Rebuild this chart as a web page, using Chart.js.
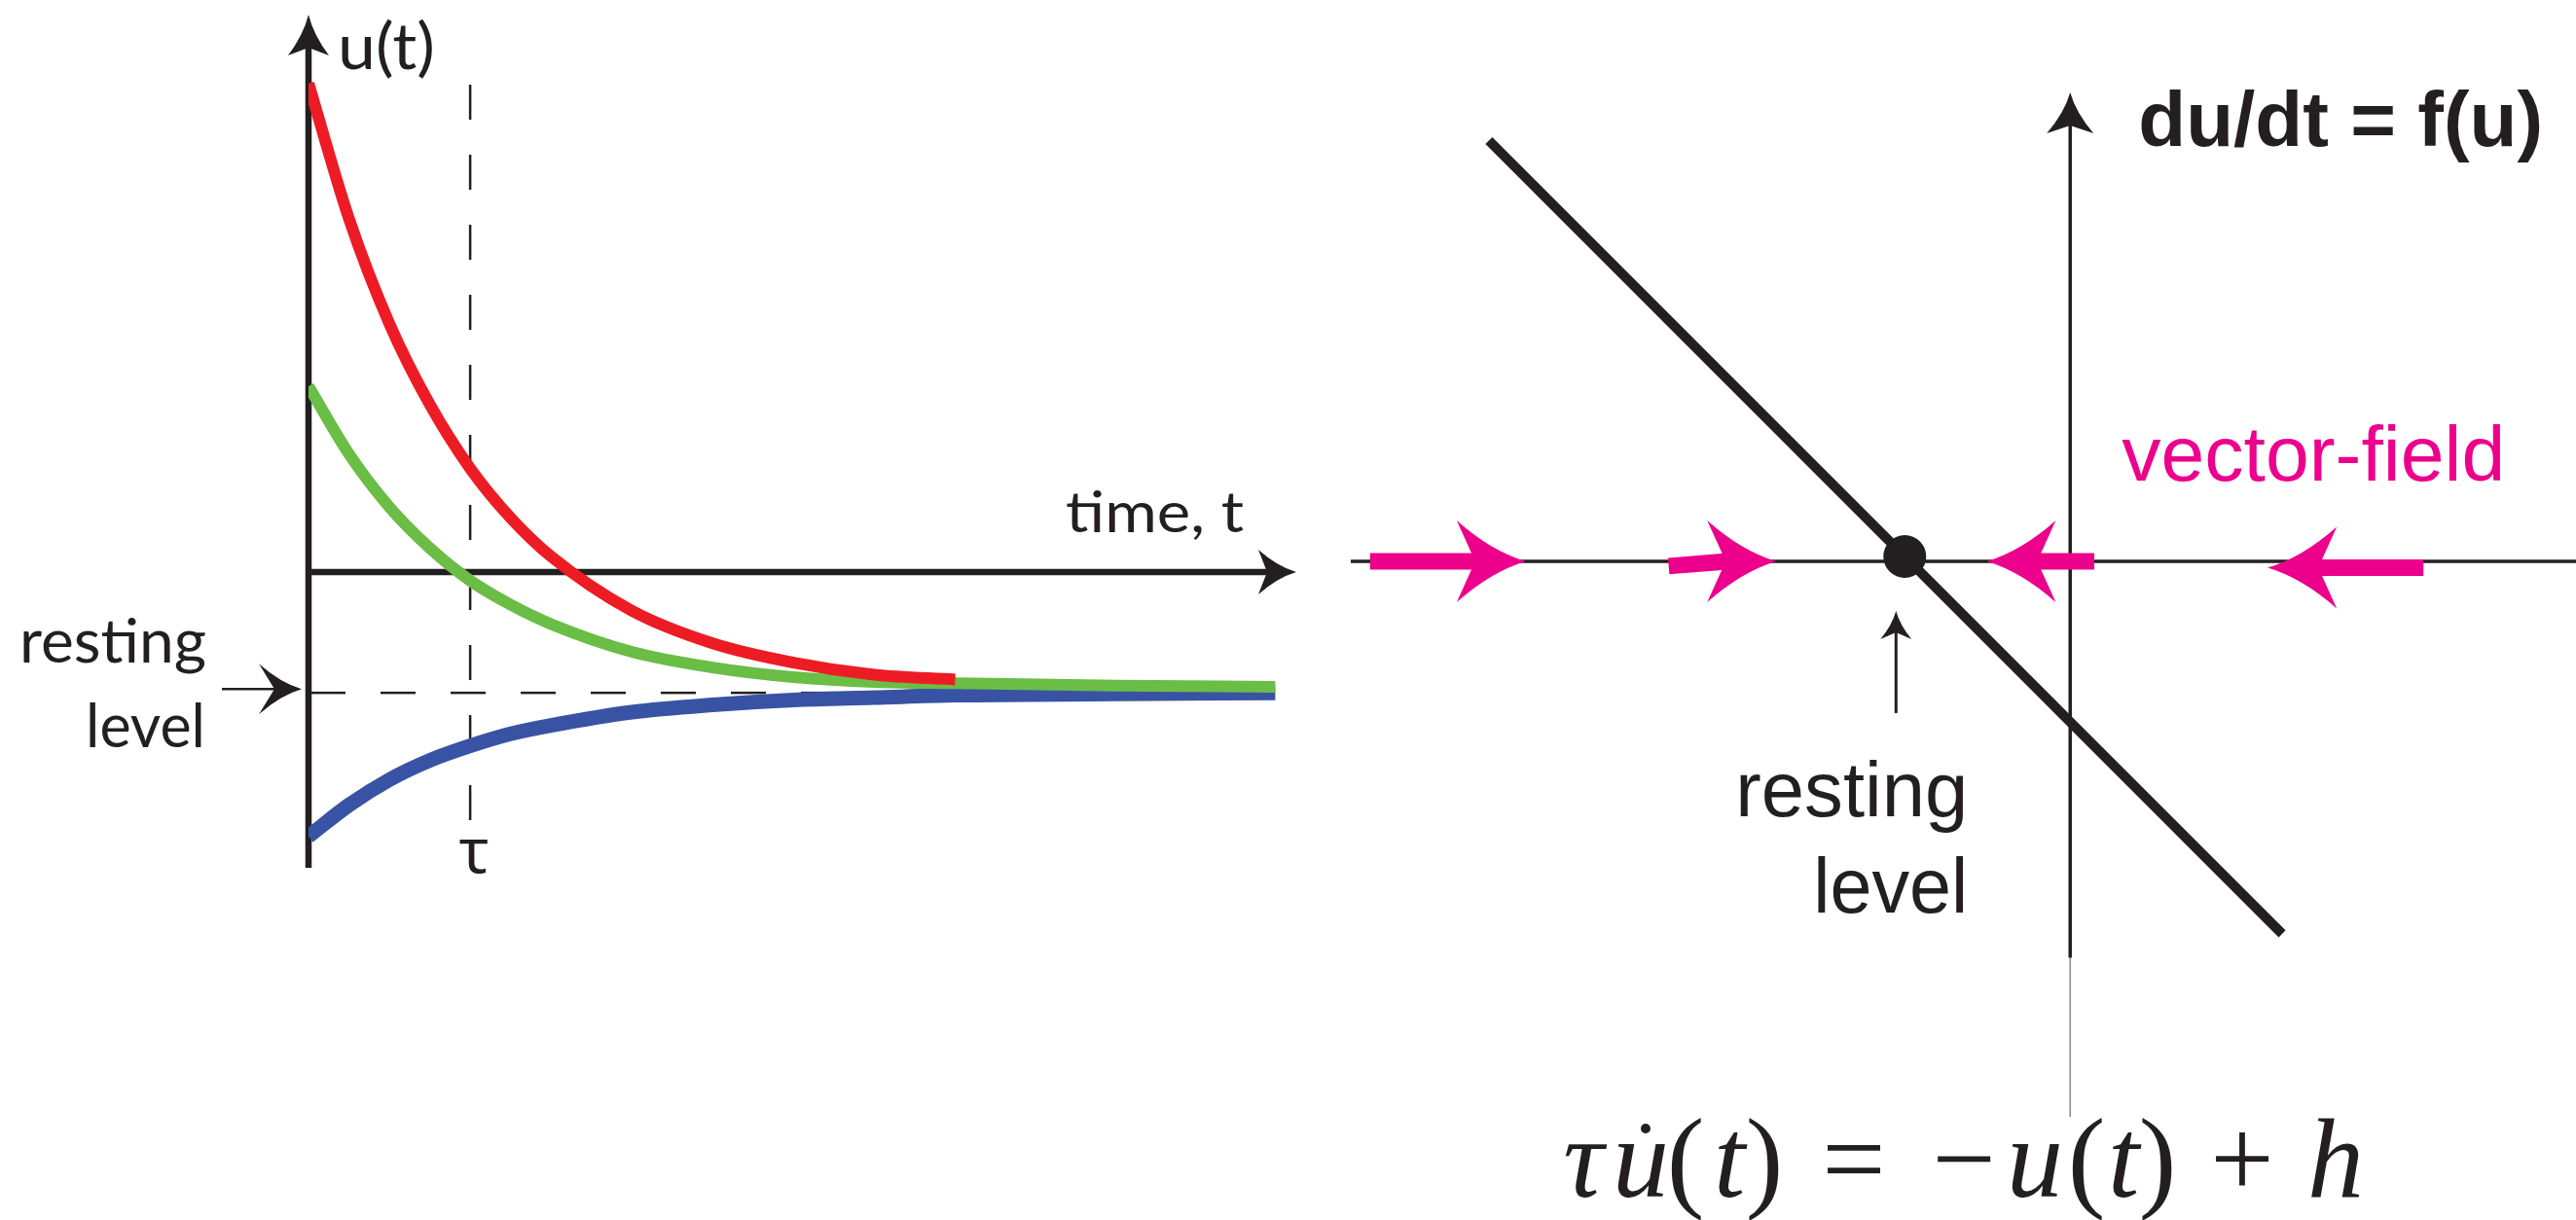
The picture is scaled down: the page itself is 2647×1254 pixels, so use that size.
<!DOCTYPE html>
<html>
<head>
<meta charset="utf-8">
<script src="https://cdn.jsdelivr.net/npm/chart.js@4.4.1/dist/chart.umd.min.js"></script>
<style>
html, body { margin: 0; padding: 0; background: #fff; overflow: hidden; }
#wrap { position: relative; width: 2647px; height: 1254px; }
canvas { position: absolute; top: 0; }
#left { left: 0; }
#right { left: 1380px; }
</style>
</head>
<body>
<div id="wrap">
  <canvas id="left" width="1380" height="950"></canvas>
  <canvas id="right" width="1267" height="1254"></canvas>
</div>
<script>
// --- left panel: u(t) relaxing to the resting level (time in units of tau) ---
const timeSteps = [0, 0.25, 0.5, 0.75, 1, 1.25, 1.5, 2, 2.5, 3, 3.5, 4, 5, 5.98];
const redU   = [4.05, 2.93, 2.06, 1.39, 0.86, 0.45, 0.13, -0.32, -0.59, -0.75, -0.85, -0.89];
const greenU = [1.54, 0.98, 0.54, 0.20, -0.07, -0.27, -0.43, -0.66, -0.79, -0.87, -0.91, -0.92, -0.94, -0.95];
const blueU  = [-2.19, -1.93, -1.72, -1.56, -1.44, -1.34, -1.27, -1.16, -1.10, -1.06, -1.04, -1.02, -1.01, -1.00];
const restingLevel = -1;
const tau = 1;

// --- right panel: du/dt = f(u) = -u + h ---
const lineU = [-3.62, 1.32];
const lineF = [2.62, -2.32];
const fixedPoint = [-1.03, 0.03];
const fieldFrom = [[-4.36, 0], [-2.50, -0.03], [0.15, 0], [2.20, -0.04]];
const fieldTo   = [[-3.39, 0], [-1.83, 0], [-0.52, 0], [1.23, -0.04]];

const INK = '#231F20';
const PINK = '#EC008C';

const pts = (xs, ys) => ys.map((v, i) => ({ x: xs[i], y: v }));

// arrow head with concave sides, like the illustrator ones
function arrowHead(ctx, tx, ty, ang, len, hw, notch) {
  const c = Math.cos(ang), s = Math.sin(ang);
  const P = (a, b) => [tx - a * c - b * s, ty - a * s + b * c];
  ctx.beginPath();
  ctx.moveTo(tx, ty);
  ctx.quadraticCurveTo(...P(len * 0.5, hw * 0.25), ...P(len, hw));
  ctx.lineTo(...P(notch, 0));
  ctx.lineTo(...P(len, -hw));
  ctx.quadraticCurveTo(...P(len * 0.5, -hw * 0.25), tx, ty);
  ctx.closePath();
  ctx.fill();
}

function label(ctx, str, x, y, font, opt = {}) {
  ctx.save();
  ctx.font = font;
  ctx.fillStyle = opt.color || INK;
  ctx.textBaseline = 'alphabetic';
  ctx.textAlign = 'left';
  const w = ctx.measureText(str).width;
  const k = opt.width ? opt.width / w : 1;
  let left = x;
  if (opt.align === 'right') left = x - w * k;
  if (opt.align === 'center') left = x - w * k / 2;
  ctx.translate(left, y);
  ctx.scale(k, 1);
  ctx.fillText(str, 0, 0);
  ctx.restore();
}

const leftDecor = {
  id: 'leftDecor',
  beforeDatasetsDraw(chart) {
    const { ctx, chartArea: a, scales: { x, y } } = chart;
    const x0 = x.getPixelForValue(0), y0 = y.getPixelForValue(0);
    const yr = y.getPixelForValue(restingLevel);
    const xt = x.getPixelForValue(tau);
    ctx.save();
    ctx.strokeStyle = INK;
    ctx.fillStyle = INK;
    // dashed guides
    ctx.lineWidth = 2.5;
    ctx.setLineDash([36, 36]);
    ctx.beginPath(); ctx.moveTo(x0 + 2, yr); ctx.lineTo(x.getPixelForValue(4), yr); ctx.stroke();
    ctx.beginPath(); ctx.moveTo(xt, 87); ctx.lineTo(xt, 850); ctx.stroke();
    ctx.setLineDash([]);
    // axes
    ctx.lineWidth = 6.5;
    ctx.beginPath(); ctx.moveTo(x0, a.bottom); ctx.lineTo(x0, a.top + 32); ctx.stroke();
    arrowHead(ctx, x0, a.top, -Math.PI / 2, 42, 21, 34);
    ctx.beginPath(); ctx.moveTo(x0 - 3, y0); ctx.lineTo(a.right - 28, y0); ctx.stroke();
    arrowHead(ctx, a.right, y0, 0, 39, 23, 30);
    // resting level pointer
    ctx.lineWidth = 2.5;
    ctx.beginPath(); ctx.moveTo(x0 - 89, yr - 4); ctx.lineTo(x0 - 25, yr - 4); ctx.stroke();
    arrowHead(ctx, x0 - 7, yr - 4, 0, 44, 26, 28);
    ctx.restore();
  },
  afterDatasetsDraw(chart) {
    const { ctx, scales: { x, y } } = chart;
    const x0 = x.getPixelForValue(0);
    const yr = y.getPixelForValue(restingLevel);
    label(ctx, 'u(t)', x0 + 30, 71, '66px Lato', { width: 100 });
    label(ctx, 'time, t', 1095, 547, '58px Lato', { width: 183 });
    label(ctx, 'resting', 212, yr - 31, '61px Lato', { align: 'right', width: 192 });
    label(ctx, 'level', 211, yr + 56, '61px Lato', { align: 'right', width: 123 });
    label(ctx, 'τ', x.getPixelForValue(tau) + 4, 897, '64px "Noto Sans"', { align: 'center' });
  }
};

new Chart(document.getElementById('left'), {
  type: 'line',
  data: {
    datasets: [
      { data: pts(timeSteps, redU), borderColor: '#ED1C24', borderWidth: 12 },
      { data: pts(timeSteps, greenU), borderColor: '#6ABD45', borderWidth: 12 },
      { data: pts(timeSteps, blueU), borderColor: '#3953A4', borderWidth: 15 }
    ]
  },
  options: {
    responsive: false,
    animation: false,
    devicePixelRatio: 1,
    layout: { autoPadding: false, padding: { left: 317, right: 48, top: 15, bottom: 58 } },
    scales: {
      x: { type: 'linear', min: 0, max: 6.11, display: false },
      y: { type: 'linear', min: -2.45, max: 4.62, display: false }
    },
    elements: {
      point: { radius: 0 },
      line: { cubicInterpolationMode: 'monotone', borderCapStyle: 'butt', fill: false }
    },
    plugins: { legend: { display: false }, tooltip: { enabled: false } }
  },
  plugins: [leftDecor]
});

const OX = 1380; // page offset of the right canvas

const rightDecor = {
  id: 'rightDecor',
  beforeDatasetsDraw(chart) {
    const { ctx, chartArea: a, scales: { x, y } } = chart;
    const x0 = x.getPixelForValue(0), y0 = y.getPixelForValue(0);
    const yThick = y.getPixelForValue(-2.47);
    ctx.save();
    ctx.strokeStyle = INK;
    ctx.fillStyle = INK;
    ctx.lineWidth = 3.5;
    ctx.beginPath(); ctx.moveTo(a.left, y0); ctx.lineTo(a.right, y0); ctx.stroke();
    ctx.beginPath(); ctx.moveTo(x0, yThick); ctx.lineTo(x0, a.top + 30); ctx.stroke();
    arrowHead(ctx, x0, a.top, -Math.PI / 2, 42, 24, 34);
    ctx.strokeStyle = '#8a8a8a';
    ctx.lineWidth = 1.5;
    ctx.beginPath(); ctx.moveTo(x0, yThick); ctx.lineTo(x0, a.bottom); ctx.stroke();
    ctx.restore();
  },
  afterDatasetsDraw(chart) {
    const { ctx, chartArea: a, scales: { x, y } } = chart;
    const x0 = x.getPixelForValue(0), y0 = y.getPixelForValue(0);
    const xd = x.getPixelForValue(fixedPoint[0]);
    ctx.save();
    // vector field arrows
    ctx.strokeStyle = PINK;
    ctx.fillStyle = PINK;
    ctx.lineWidth = 17;
    ctx.lineCap = 'butt';
    fieldFrom.forEach((f, i) => {
      const t = fieldTo[i];
      const sx = x.getPixelForValue(f[0]), sy = y.getPixelForValue(f[1]);
      const tx = x.getPixelForValue(t[0]), ty = y.getPixelForValue(t[1]);
      const dir = tx > sx ? 1 : -1;
      ctx.beginPath(); ctx.moveTo(sx, sy); ctx.lineTo(tx - dir * 50, ty); ctx.stroke();
      arrowHead(ctx, tx, ty, dir > 0 ? 0 : Math.PI, 71, 42, 52);
    });
    // resting level pointer
    ctx.strokeStyle = INK;
    ctx.fillStyle = INK;
    ctx.lineWidth = 3;
    ctx.beginPath(); ctx.moveTo(xd - 9, y0 + 156); ctx.lineTo(xd - 9, y0 + 70); ctx.stroke();
    arrowHead(ctx, xd - 9, y0 + 51, -Math.PI / 2, 29, 16, 22);
    ctx.restore();

    label(ctx, 'du/dt = f(u)', x0 + 70, a.top + 55, 'bold 80px "Liberation Sans"', { width: 416 });
    label(ctx, 'vector-field', x0 + 53, y0 - 83, '80px "Liberation Sans"', { color: PINK, width: 394 });
    label(ctx, 'resting', xd + 65, y0 + 262, '80px "Liberation Sans"', { align: 'right', width: 239 });
    label(ctx, 'level', xd + 65, y0 + 361, '80px "Liberation Sans"', { align: 'right', width: 159 });

    // tau u'(t) = -u(t) + h
    const eq = [['τ', 1627, 1], ['u', 1686, 1], ['(', 1732, 0], ['t', 1777, 1], [')', 1813, 0],
                ['=', 1905, 0], ['−', 2018, 0], ['u', 2091, 1], ['(', 2144, 0], ['t', 2182, 1],
                [')', 2217, 0], ['+', 2304, 0], ['h', 2400, 1]];
    eq.forEach(([g, cx, it]) => {
      label(ctx, g, cx - OX, 1230, (it ? 'italic ' : '') + '116px "Liberation Serif"', { align: 'center' });
    });
    ctx.save();
    ctx.fillStyle = INK;
    ctx.beginPath(); ctx.arc(1691 - OX, 1160, 5, 0, Math.PI * 2); ctx.fill();
    ctx.restore();
  }
};

new Chart(document.getElementById('right'), {
  type: 'scatter',
  data: {
    datasets: [
      { data: [{ x: fixedPoint[0], y: fixedPoint[1] }], pointRadius: 22, backgroundColor: INK, borderWidth: 0 },
      { type: 'line', data: pts(lineU, lineF), borderColor: INK, borderWidth: 10, pointRadius: 0, showLine: true, fill: false }
    ]
  },
  options: {
    responsive: false,
    animation: false,
    devicePixelRatio: 1,
    layout: { autoPadding: false, padding: { left: 8, right: 0, top: 95, bottom: 106 } },
    scales: {
      x: { type: 'linear', min: -4.48, max: 3.15, display: false },
      y: { type: 'linear', min: -3.46, max: 2.92, display: false }
    },
    plugins: { legend: { display: false }, tooltip: { enabled: false } }
  },
  plugins: [rightDecor]
});
</script>
</body>
</html>
